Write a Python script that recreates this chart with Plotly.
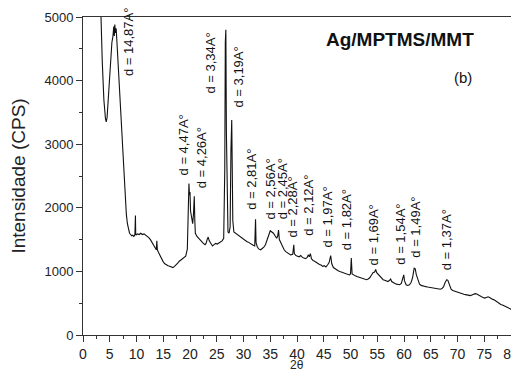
import plotly.graph_objects as go

two_theta = [3.0, 3.3, 3.6, 3.9, 4.2, 4.35, 4.5, 4.8, 5.1, 5.4, 5.6, 5.75, 5.85, 5.95, 6.05, 6.2, 6.35, 6.5, 6.8, 7.1,
             7.4, 7.7, 7.9, 8.1, 8.3, 8.5, 8.7, 8.9, 9.1, 9.3, 9.5, 9.7, 9.8, 9.85, 9.9, 10.2, 10.5, 10.8, 11.1, 11.4,
             11.7, 12.0, 12.3, 12.6, 12.9, 13.2, 13.5, 13.7, 13.8, 13.9, 14.1, 14.4, 14.7, 15.0, 15.3, 15.6, 15.9, 16.2, 16.5, 16.8,
             17.1, 17.4, 17.7, 18.0, 18.3, 18.6, 18.9, 19.2, 19.5, 19.65, 19.8, 19.9, 20.0, 20.1, 20.3, 20.5, 20.65, 20.8, 20.9, 21.0,
             21.3, 21.6, 21.9, 22.2, 22.5, 22.8, 23.0, 23.2, 23.4, 23.6, 23.9, 24.2, 24.5, 24.8, 25.1, 25.4, 25.7, 26.0, 26.3, 26.5,
             26.6, 26.7, 26.8, 26.95, 27.1, 27.3, 27.5, 27.65, 27.8, 27.9, 28.0, 28.2, 28.5, 28.8, 29.1, 29.4, 29.7, 30.0, 30.3, 30.6,
             30.9, 31.2, 31.5, 31.8, 32.1, 32.25, 32.35, 32.6, 32.9, 33.2, 33.5, 33.8, 34.1, 34.4, 34.7, 35.0, 35.3, 35.6, 35.9, 36.2,
             36.4, 36.55, 36.7, 37.0, 37.3, 37.6, 37.9, 38.2, 38.5, 38.8, 39.2, 39.4, 39.5, 39.8, 40.1, 40.4, 40.7, 41.0, 41.3, 41.6,
             41.9, 42.1, 42.3, 42.5, 42.7, 43.0, 43.3, 43.6, 43.9, 44.2, 44.5, 44.8, 45.1, 45.4, 45.7, 46.0, 46.3, 46.5, 46.8, 47.1,
             47.4, 47.7, 48.0, 48.3, 48.6, 48.9, 49.2, 49.5, 49.8, 50.0, 50.15, 50.3, 50.6, 50.9, 51.2, 51.5, 51.8, 52.1, 52.4, 52.7,
             53.0, 53.3, 53.6, 53.9, 54.2, 54.5, 54.7, 54.9, 55.2, 55.5, 55.8, 56.1, 56.4, 56.7, 57.0, 57.3, 57.5, 57.7, 58.0, 58.3,
             58.6, 58.9, 59.2, 59.5, 59.8, 59.95, 60.1, 60.4, 60.7, 61.0, 61.3, 61.6, 61.9, 62.1, 62.3, 62.6, 62.9, 63.2, 63.5, 63.8,
             64.1, 64.4, 64.7, 65.0, 65.3, 65.6, 65.9, 66.2, 66.5, 66.8, 67.1, 67.4, 67.7, 68.0, 68.2, 68.5, 68.8, 69.1, 69.4, 69.7,
             70.0, 70.3, 70.6, 70.9, 71.2, 71.5, 71.8, 72.1, 72.4, 72.7, 73.0, 73.3, 73.6, 73.9, 74.2, 74.5, 74.8, 75.1, 75.4, 75.7,
             76.0, 76.3, 76.6, 76.9, 77.2, 77.5, 77.8, 78.1, 78.4, 78.7, 79.0, 79.3, 79.6, 79.9, 80.0]

intensity = [5800, 5200, 4300, 3700, 3400, 3350, 3420, 3800, 4250, 4600, 4700, 4850, 4700, 4880, 4750, 4820, 4600, 4350, 3900, 3400,
             2900, 2450, 2100, 1900, 1750, 1660, 1600, 1580, 1560, 1570, 1550, 1580, 1880, 1600, 1570, 1590, 1580, 1600, 1580, 1590,
             1570, 1560, 1530, 1500, 1460, 1420, 1380, 1340, 1480, 1340, 1300, 1250, 1190, 1150, 1120, 1100, 1090, 1080, 1070, 1060,
             1080, 1100, 1130, 1160, 1180, 1200, 1220, 1240, 1350, 1900, 2380, 2200, 2250, 1950, 1800, 1750, 1900, 2180, 1800, 1600,
             1550, 1520, 1500, 1470, 1440, 1420, 1440, 1500, 1540, 1480, 1430, 1400, 1420, 1440, 1430, 1450, 1460, 1480, 1520, 2600,
             4600, 4800, 3200, 1800, 1620, 1600, 1700, 2900, 3380, 2600, 1800, 1620, 1600, 1580, 1560, 1550, 1520, 1500, 1490, 1470,
             1460, 1440, 1420, 1410, 1400, 1820, 1450, 1380, 1350, 1340, 1360, 1380, 1420, 1500, 1580, 1640, 1620, 1600, 1560, 1520,
             1560, 1650, 1500, 1440, 1380, 1340, 1310, 1290, 1280, 1260, 1270, 1420, 1280, 1250, 1240, 1230, 1250, 1220, 1210, 1200,
             1220, 1260, 1230, 1280, 1200, 1170, 1160, 1140, 1120, 1110, 1100, 1080, 1090, 1070, 1100, 1140, 1250, 1120, 1060, 1040,
             1030, 1010, 1000, 990, 980, 970, 960, 950, 945, 960, 1210, 960, 940, 930, 920, 910, 905, 900, 890, 880,
             870, 880, 900, 940, 980, 990, 1030, 980, 950, 920, 890, 870, 860, 850, 840, 860, 880, 840, 820, 810,
             800, 790, 790, 810, 920, 945, 850, 790, 780, 790, 820, 900, 1050, 1040, 950, 860, 800, 780, 770, 770,
             760, 755, 750, 745, 740, 735, 730, 720, 715, 720, 730, 760, 830, 870, 860, 780, 720, 700, 690, 680,
             670, 665, 655, 650, 640, 635, 630, 625, 620, 630, 640, 650, 645, 625, 610, 600, 590, 580, 590, 600,
             590, 570, 560, 550, 530, 520, 500, 480, 470, 460, 445, 430, 420, 410, 400]

peak_labels = ["d = 14,87A°", "d = 3,34A°", "d = 3,19A°", "d = 4,47A°", "d = 4,26A°", "d = 2,81A°",
               "d = 2,56A°", "d = 2,45A°", "d = 2,28A°", "d = 2,12A°", "d = 1,97A°", "d = 1,82A°",
               "d = 1,69A°", "d = 1,54A°", "d = 1,49A°", "d = 1,37A°"]
label_x = [8.4, 23.9, 29.0, 18.7, 22.2, 31.6, 35.0, 37.2, 39.1, 42.1, 45.8, 49.3, 54.2, 59.3, 62.1, 68.0]
label_y = [4040, 3770, 3540, 2470, 2280, 1930, 1780, 1780, 1495, 1525, 1335, 1305, 1070, 1070, 1180, 990]

FONT = "Liberation Sans, Arial, sans-serif"

fig = go.Figure()
fig.add_trace(go.Scatter(x=two_theta, y=intensity, mode="lines",
                         line=dict(color="#111111", width=1.1), showlegend=False))

for t, lx, ly in zip(peak_labels, label_x, label_y):
    fig.add_annotation(x=lx, y=ly, xref="x", yref="y", text=t, textangle=-90,
                       showarrow=False, xanchor="center", yanchor="bottom",
                       font=dict(family=FONT, size=13, color="#111111"))

fig.add_annotation(x=0.74, y=0.93, xref="paper", yref="paper", text="<b>Ag/MPTMS/MMT</b>",
                   showarrow=False, xanchor="center", yanchor="middle",
                   font=dict(family=FONT, size=19, color="#111111"))
fig.add_annotation(x=0.888, y=0.81, xref="paper", yref="paper", text="(b)",
                   showarrow=False, xanchor="center", yanchor="middle",
                   font=dict(family=FONT, size=15, color="#111111"))
# x-axis title placed so that it stays inside the visible page
fig.add_annotation(x=0.5, y=-0.1226, xref="paper", yref="paper", text="2θ",
                   showarrow=False, xanchor="center", yanchor="bottom",
                   font=dict(family=FONT, size=12, color="#222222"))

axis_common = dict(showline=True, linecolor="#333333", linewidth=1, mirror=True,
                   ticks="outside", tickcolor="#333333", showgrid=False, zeroline=False,
                   automargin=False)

fig.update_xaxes(range=[0, 80], dtick=5, tick0=0, ticklen=6,
                 minor=dict(dtick=2.5, ticks="outside", ticklen=3, tickcolor="#333333"),
                 tickfont=dict(family=FONT, size=14, color="#222222"),
                 **axis_common)
fig.update_yaxes(range=[0, 5000], dtick=1000, tick0=0, ticklen=6,
                 minor=dict(dtick=500, ticks="outside", ticklen=3, tickcolor="#333333"),
                 tickfont=dict(family=FONT, size=13, color="#222222"),
                 title=dict(text="Intensidade (CPS)", font=dict(family=FONT, size=19, color="#222222"), standoff=16),
                 **axis_common)

# page body has an 8px margin, so the figure is offset by 8px on screen
fig.update_layout(width=519, height=374, margin=dict(l=75, r=16, t=9, b=47),
                  paper_bgcolor="white", plot_bgcolor="white")

fig.write_html("out.html")
